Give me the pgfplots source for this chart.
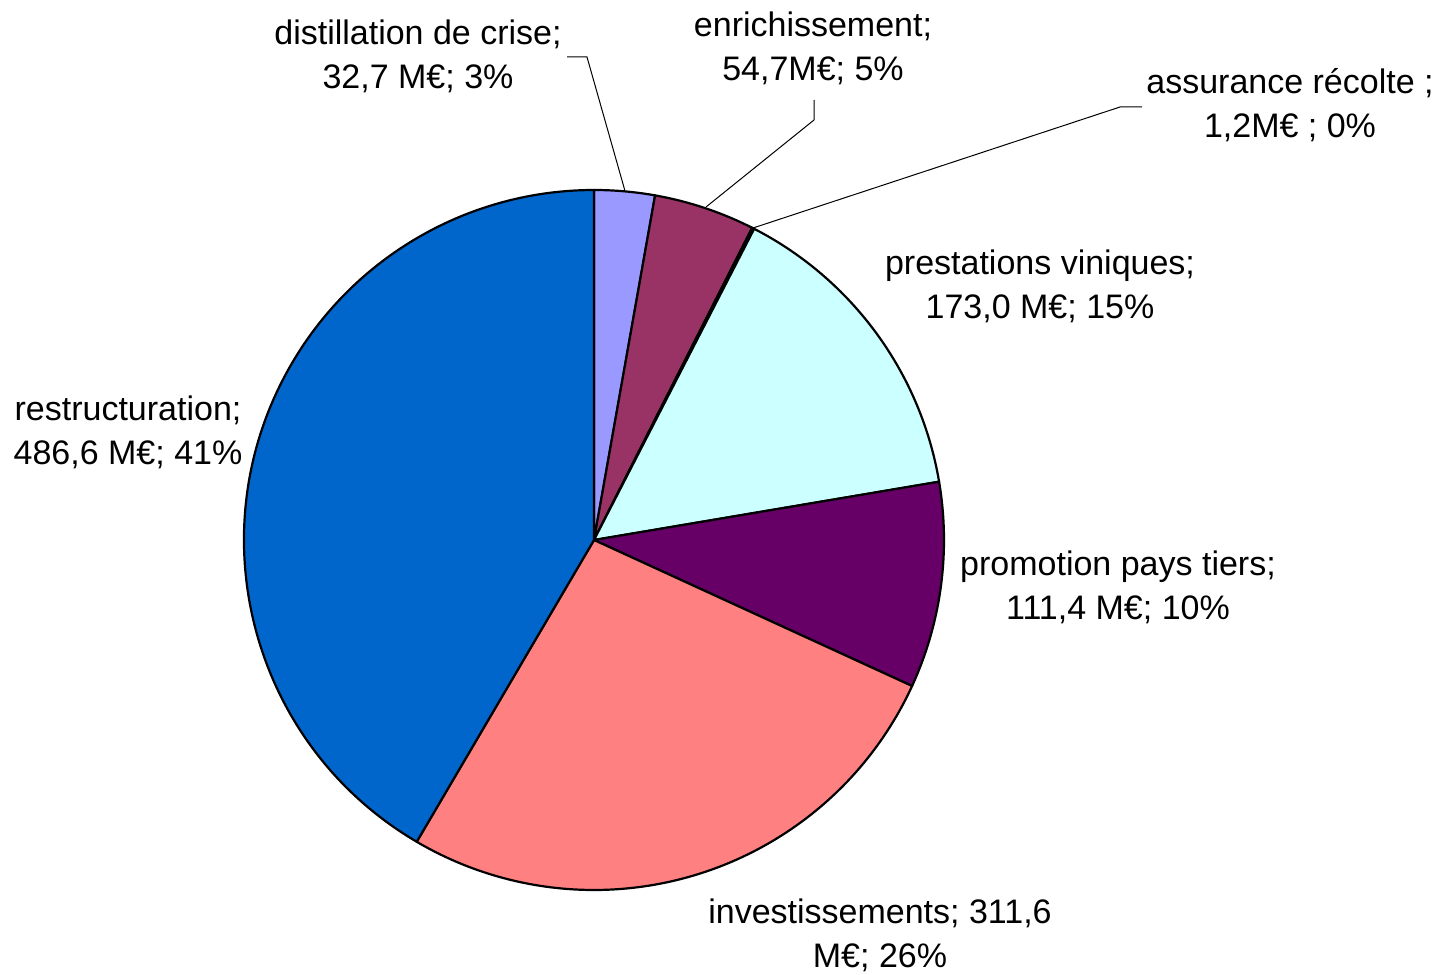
\documentclass[border=0pt]{standalone}
\usepackage{pgfplots}
\usepackage{pgfplotstable}
\pgfplotsset{compat=1.18}
\usepackage{fontspec}
\setmainfont{Liberation Sans}

\definecolor{c0}{HTML}{9999FF}
\definecolor{c1}{HTML}{993366}
\definecolor{c2}{HTML}{FFFFCC}
\definecolor{c3}{HTML}{CCFFFF}
\definecolor{c4}{HTML}{660066}
\definecolor{c5}{HTML}{FF8080}
\definecolor{c6}{HTML}{0066CC}

% slices clockwise from 12 o'clock, values in M EUR
\pgfplotstableread{
name v
distillation 32.7
enrichissement 54.7
assurance 1.2
prestations 173.0
promotion 111.4
investissements 311.6
restructuration 486.6
}\pie

\begin{document}
\begin{tikzpicture}[lbl/.style={align=center,inner sep=0pt,font=\fontsize{17}{22}\selectfont}]
\begin{axis}[
  x=0.5pt, y=0.5pt, y dir=reverse,
  xmin=0, xmax=1439, ymin=0, ymax=974,
  hide axis, clip=false
]
\path (axis cs:0,0) rectangle (axis cs:1439,974);
% total
\gdef\tot{0}
\pgfplotsinvokeforeach{0,...,6}{
  \pgfplotstablegetelem{#1}{v}\of\pie
  \pgfmathparse{\tot+\pgfplotsretval}\xdef\tot{\pgfmathresult}
}
\gdef\cum{0}
\pgfplotsinvokeforeach{0,...,6}{
  \pgfplotstablegetelem{#1}{v}\of\pie
  \pgfmathparse{90-\cum/\tot*360}\xdef\aa{\pgfmathresult}
  \pgfmathparse{\cum+\pgfplotsretval}\xdef\cum{\pgfmathresult}
  \pgfmathparse{90-\cum/\tot*360}\xdef\bb{\pgfmathresult}
  \edef\slice{\noexpand\filldraw[fill=c#1,draw=black,line width=1.1pt,line join=round]
    (axis cs:594,540) -- ([shift={(\aa:175pt)}]axis cs:594,540)
    arc[start angle=\aa, end angle=\bb, radius=175pt] -- cycle;}
  \slice
}
% leader lines
\draw[line width=0.5pt] (axis cs:567,57) -- (axis cs:587,57) -- (axis cs:625,191);
\draw[line width=0.5pt] (axis cs:814,100) -- (axis cs:814,120) -- (axis cs:706,207);
\draw[line width=0.5pt] (axis cs:1142,107) -- (axis cs:1120,107) -- (axis cs:753,228);
% labels
\node[lbl] at (axis cs:418,56) {distillation de crise;\\32,7 M€; 3\%};
\node[lbl] at (axis cs:813,48) {enrichissement;\\54,7M€; 5\%};
\node[lbl] at (axis cs:1290,105) {assurance récolte ;\\1,2M€ ; 0\%};
\node[lbl] at (axis cs:1040,286) {prestations viniques;\\173,0 M€; 15\%};
\node[lbl] at (axis cs:1118,587) {promotion pays tiers;\\111,4 M€; 10\%};
\node[lbl] at (axis cs:880,935) {investissements; 311,6\\M€; 26\%};
\node[lbl] at (axis cs:128,432) {restructuration;\\486,6 M€; 41\%};
\end{axis}
\end{tikzpicture}
\end{document}
